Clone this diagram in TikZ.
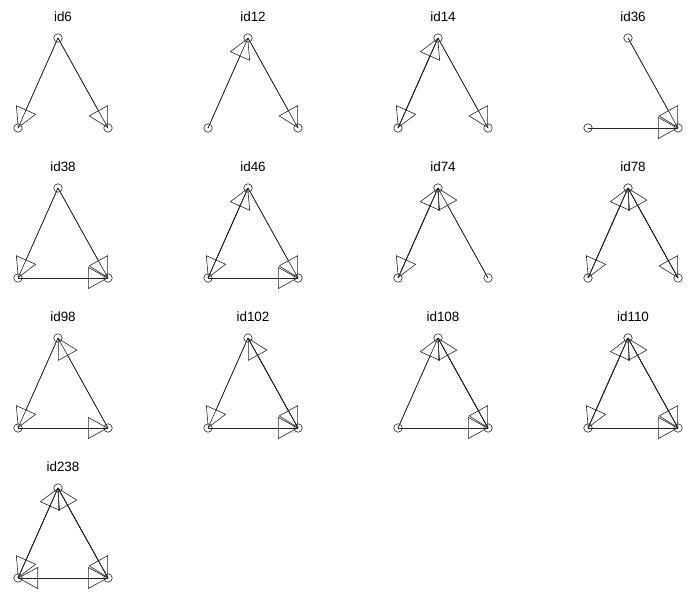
\documentclass[tikz,border=0pt]{standalone}
\usepackage{fontspec}
\setsansfont{Liberation Sans}
\usetikzlibrary{arrows.meta, positioning}

\tikzset{vertex/.style = {circle, draw, inner sep = 0pt, minimum size = 8.5bp},
	arc/.style = {-{Triangle[open, length = 20bp, width = 22bp]}, preaction = {draw, arrows = -}},
	title/.style = {anchor = base, font = \sffamily\fontsize{13.5}{13.5}\selectfont}}

\begin{document}
\begin{tikzpicture}[x = 1bp, y = -1bp, on grid, line width = 0.6bp, draw = black!85]

\useasboundingbox (0,0) rectangle (690,596);

% row 1
\node[vertex]	(6a)	at (58,38)		{};
\node[vertex]	(6b)	[below left = 90bp and 40bp of 6a]	{};
\node[vertex]	(6c)	[right = 90bp of 6b]	{};
\node[title]	(t6)	at (63,21.5)	{id6};

\node[vertex]	(12a)	at (248,38)		{};
\node[vertex]	(12b)	[below left = 90bp and 40bp of 12a]	{};
\node[vertex]	(12c)	[right = 90bp of 12b]	{};
\node[title]	(t12)	at (253,21.5)	{id12};

\node[vertex]	(14a)	at (438,38)		{};
\node[vertex]	(14b)	[below left = 90bp and 40bp of 14a]	{};
\node[vertex]	(14c)	[right = 90bp of 14b]	{};
\node[title]	(t14)	at (443,21.5)	{id14};

\node[vertex]	(36a)	at (628,38)		{};
\node[vertex]	(36b)	[below left = 90bp and 40bp of 36a]	{};
\node[vertex]	(36c)	[right = 90bp of 36b]	{};
\node[title]	(t36)	at (633,21.5)	{id36};

% row 2
\node[vertex]	(38a)	at (58,188)		{};
\node[vertex]	(38b)	[below left = 90bp and 40bp of 38a]	{};
\node[vertex]	(38c)	[right = 90bp of 38b]	{};
\node[title]	(t38)	at (63,171.5)	{id38};

\node[vertex]	(46a)	at (248,188)	{};
\node[vertex]	(46b)	[below left = 90bp and 40bp of 46a]	{};
\node[vertex]	(46c)	[right = 90bp of 46b]	{};
\node[title]	(t46)	at (253,171.5)	{id46};

\node[vertex]	(74a)	at (438,188)	{};
\node[vertex]	(74b)	[below left = 90bp and 40bp of 74a]	{};
\node[vertex]	(74c)	[right = 90bp of 74b]	{};
\node[title]	(t74)	at (443,171.5)	{id74};

\node[vertex]	(78a)	at (628,188)	{};
\node[vertex]	(78b)	[below left = 90bp and 40bp of 78a]	{};
\node[vertex]	(78c)	[right = 90bp of 78b]	{};
\node[title]	(t78)	at (633,171.5)	{id78};

% row 3
\node[vertex]	(98a)	at (58,338)		{};
\node[vertex]	(98b)	[below left = 90bp and 40bp of 98a]	{};
\node[vertex]	(98c)	[right = 90bp of 98b]	{};
\node[title]	(t98)	at (63,321.5)	{id98};

\node[vertex]	(102a)	at (248,338)	{};
\node[vertex]	(102b)	[below left = 90bp and 40bp of 102a]	{};
\node[vertex]	(102c)	[right = 90bp of 102b]	{};
\node[title]	(t102)	at (253,321.5)	{id102};

\node[vertex]	(108a)	at (438,338)	{};
\node[vertex]	(108b)	[below left = 90bp and 40bp of 108a]	{};
\node[vertex]	(108c)	[right = 90bp of 108b]	{};
\node[title]	(t108)	at (443,321.5)	{id108};

\node[vertex]	(110a)	at (628,338)	{};
\node[vertex]	(110b)	[below left = 90bp and 40bp of 110a]	{};
\node[vertex]	(110c)	[right = 90bp of 110b]	{};
\node[title]	(t110)	at (633,321.5)	{id110};

% row 4
\node[vertex]	(238a)	at (58,488)		{};
\node[vertex]	(238b)	[below left = 90bp and 40bp of 238a]	{};
\node[vertex]	(238c)	[right = 90bp of 238b]	{};
\node[title]	(t238)	at (63,471.5)	{id238};

\path	(6a.center)	edge[arc]	(6b.center);
\path	(6a.center)	edge[arc]	(6c.center);

\path	(12b.center)	edge[arc]	(12a.center);
\path	(12a.center)	edge[arc]	(12c.center);

\path	(14a.center)	edge[arc]	(14b.center);
\path	(14b.center)	edge[arc]	(14a.center);
\path	(14a.center)	edge[arc]	(14c.center);

\path	(36a.center)	edge[arc]	(36c.center);
\path	(36b.center)	edge[arc]	(36c.center);

\path	(38a.center)	edge[arc]	(38b.center);
\path	(38a.center)	edge[arc]	(38c.center);
\path	(38b.center)	edge[arc]	(38c.center);

\path	(46a.center)	edge[arc]	(46b.center);
\path	(46b.center)	edge[arc]	(46a.center);
\path	(46a.center)	edge[arc]	(46c.center);
\path	(46b.center)	edge[arc]	(46c.center);

\path	(74a.center)	edge[arc]	(74b.center);
\path	(74b.center)	edge[arc]	(74a.center);
\path	(74c.center)	edge[arc]	(74a.center);

\path	(78a.center)	edge[arc]	(78b.center);
\path	(78b.center)	edge[arc]	(78a.center);
\path	(78a.center)	edge[arc]	(78c.center);
\path	(78c.center)	edge[arc]	(78a.center);

\path	(98a.center)	edge[arc]	(98b.center);
\path	(98c.center)	edge[arc]	(98a.center);
\path	(98b.center)	edge[arc]	(98c.center);

\path	(102a.center)	edge[arc]	(102b.center);
\path	(102a.center)	edge[arc]	(102c.center);
\path	(102c.center)	edge[arc]	(102a.center);
\path	(102b.center)	edge[arc]	(102c.center);

\path	(108b.center)	edge[arc]	(108a.center);
\path	(108a.center)	edge[arc]	(108c.center);
\path	(108c.center)	edge[arc]	(108a.center);
\path	(108b.center)	edge[arc]	(108c.center);

\path	(110a.center)	edge[arc]	(110b.center);
\path	(110b.center)	edge[arc]	(110a.center);
\path	(110a.center)	edge[arc]	(110c.center);
\path	(110c.center)	edge[arc]	(110a.center);
\path	(110b.center)	edge[arc]	(110c.center);

\path	(238a.center)	edge[arc]	(238b.center);
\path	(238b.center)	edge[arc]	(238a.center);
\path	(238a.center)	edge[arc]	(238c.center);
\path	(238c.center)	edge[arc]	(238a.center);
\path	(238b.center)	edge[arc]	(238c.center);
\path	(238c.center)	edge[arc]	(238b.center);

\end{tikzpicture}
\end{document}
